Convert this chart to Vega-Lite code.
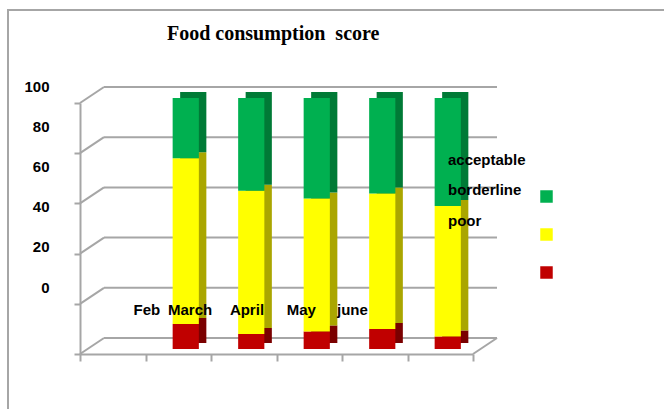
{
  "$schema": "https://vega.github.io/schema/vega-lite/v6.json",
  "width": 700,
  "height": 420,
  "autosize": {"type": "none"},
  "padding": {"left": 8, "top": 10, "right": 0, "bottom": 0},
  "background": "white",
  "title": {
    "text": "Food consumption\u00a0 score",
    "font": "Liberation Serif",
    "fontSize": 20,
    "fontWeight": "bold",
    "color": "black",
    "anchor": "start",
    "dx": 159,
    "offset": -34
  },
  "config": {
    "view": {"stroke": "#a6a6a6", "strokeWidth": 2},
    "font": "Liberation Sans"
  },
  "datasets": {
    "fcs": [
      {"month": "Feb", "category": "poor", "value": 10},
      {"month": "Feb", "category": "borderline", "value": 66},
      {"month": "Feb", "category": "acceptable", "value": 24},
      {"month": "March", "category": "poor", "value": 6},
      {"month": "March", "category": "borderline", "value": 57},
      {"month": "March", "category": "acceptable", "value": 37},
      {"month": "April", "category": "poor", "value": 7},
      {"month": "April", "category": "borderline", "value": 53},
      {"month": "April", "category": "acceptable", "value": 40},
      {"month": "May", "category": "poor", "value": 8},
      {"month": "May", "category": "borderline", "value": 54},
      {"month": "May", "category": "acceptable", "value": 38},
      {"month": "june", "category": "poor", "value": 5},
      {"month": "june", "category": "borderline", "value": 52},
      {"month": "june", "category": "acceptable", "value": 43}
    ],
    "levels": [
      {"level": 0}, {"level": 20}, {"level": 40}, {"level": 60}, {"level": 80}, {"level": 100}
    ],
    "legendLabels": [
      {"label": "acceptable"}, {"label": "borderline"}, {"label": "poor"}
    ]
  },
  "layer": [
    {
      "data": {"name": "levels"},
      "mark": {"type": "rule", "color": "#a6a6a6", "strokeWidth": 2, "xOffset": 24, "x2Offset": 24, "yOffset": -16},
      "encoding": {
        "x": {"datum": " ", "type": "nominal", "bandPosition": 0, "axis": {"title": null}},
        "x2": {"datum": "june", "bandPosition": 1},
        "y": {"field": "level", "type": "quantitative", "axis": {"title": null}}
      }
    },
    {
      "data": {"name": "levels"},
      "mark": {"type": "rule", "color": "#a6a6a6", "strokeWidth": 2, "x2Offset": 24, "y2Offset": -16},
      "encoding": {
        "x": {"datum": " ", "type": "nominal", "bandPosition": 0, "axis": {"title": null}},
        "x2": {"datum": " ", "bandPosition": 0},
        "y": {"field": "level", "type": "quantitative", "axis": {"title": null}},
        "y2": {"field": "level"}
      }
    },
    {
      "data": {"name": "levels"},
      "transform": [{"filter": "datum.level == 0"}],
      "mark": {"type": "rule", "color": "#a6a6a6", "strokeWidth": 2, "x2Offset": 24, "y2Offset": -16},
      "encoding": {
        "x": {"datum": "june", "type": "nominal", "bandPosition": 1, "axis": {"title": null}},
        "x2": {"datum": "june", "bandPosition": 1},
        "y": {"field": "level", "type": "quantitative", "axis": {"title": null}},
        "y2": {"field": "level"}
      }
    },
    {
      "data": {"name": "fcs"},
      "mark": {"type": "bar", "width": {"band": 0.4}, "xOffset": 15, "yOffset": -11, "y2Offset": -11},
      "encoding": {
        "x": {"field": "month", "type": "nominal", "sort": null, "axis": {"title": null}},
        "y": {"field": "value", "type": "quantitative", "stack": "zero", "axis": {"title": null}},
        "fill": {
          "field": "category",
          "type": "nominal",
          "scale": {"range": ["#007a36", "#aaa600", "#7a0000"]},
          "legend": null
        },
        "order": {"field": "category", "sort": "descending"}
      }
    },
    {
      "data": {"name": "fcs"},
      "mark": {"type": "bar", "width": {"band": 0.4}, "xOffset": 7.5, "yOffset": -5, "y2Offset": -5},
      "encoding": {
        "x": {
          "field": "month",
          "type": "nominal",
          "sort": null,
          "scale": {"domain": [" ", "Feb", "March", "April", "May", "june"], "range": [72, 465], "paddingInner": 0, "paddingOuter": 0},
          "axis": {
            "orient": "bottom",
            "offset": -76,
            "zindex": 1,
            "title": null,
            "tickBand": "extent",
            "domainColor": "#a6a6a6",
            "domainWidth": 2,
            "tickColor": "#a6a6a6",
            "tickWidth": 2,
            "tickSize": 7,
            "labelAngle": 0,
            "labelFont": "Liberation Sans",
            "labelFontSize": 15,
            "labelFontWeight": "bold",
            "labelColor": "black",
            "labelBaseline": "middle",
            "labelPadding": -52,
            "labelOffset": {"expr": "-18.5 - 13.6 * indexof(['Feb', 'March', 'April', 'May', 'june'], datum.value)"}
          }
        },
        "y": {
          "field": "value",
          "type": "quantitative",
          "stack": "zero",
          "scale": {"domain": [0, 100], "range": [344, 93], "nice": false},
          "axis": {
            "title": null,
            "offset": -72,
            "values": [0, 20, 40, 60, 80, 100],
            "grid": false,
            "domainColor": "#a6a6a6",
            "domainWidth": 2,
            "tickColor": "#a6a6a6",
            "tickWidth": 2,
            "tickSize": 6,
            "labelFont": "Liberation Sans",
            "labelFontSize": 15,
            "labelFontWeight": "bold",
            "labelColor": "black",
            "labelPadding": 25,
            "labelOffset": {"expr": "-17 - (100 - datum.value) * 0.5"}
          }
        },
        "color": {
          "field": "category",
          "type": "nominal",
          "scale": {"domain": ["acceptable", "borderline", "poor"], "range": ["#00b050", "#ffff00", "#c00000"]},
          "legend": {
            "orient": "none",
            "legendX": 532,
            "legendY": 180,
            "title": null,
            "symbolType": "square",
            "symbolSize": 156,
            "symbolStrokeWidth": 0,
            "labelExpr": "''",
            "rowPadding": 25
          }
        },
        "order": {"field": "category", "sort": "descending"}
      }
    },
    {
      "data": {"name": "legendLabels"},
      "mark": {"type": "point", "opacity": 0},
      "encoding": {
        "shape": {
          "field": "label",
          "type": "nominal",
          "legend": {
            "orient": "none",
            "legendX": 425,
            "legendY": 142,
            "title": null,
            "symbolSize": 1,
            "symbolOpacity": 0,
            "symbolStrokeWidth": 0,
            "labelOffset": 0,
            "labelFont": "Liberation Sans",
            "labelFontSize": 15,
            "labelFontWeight": "bold",
            "labelColor": "black",
            "rowPadding": 14.5
          }
        }
      }
    }
  ]
}
